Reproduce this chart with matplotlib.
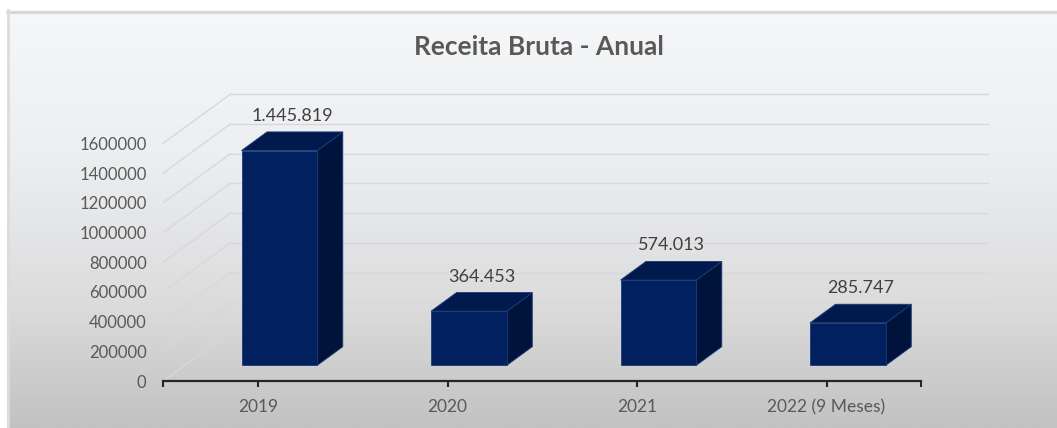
import numpy as np
import matplotlib
matplotlib.use("Agg")
import matplotlib.pyplot as plt
from matplotlib.colors import LinearSegmentedColormap

# ---- data ----
categories = ["2019", "2020", "2021", "2022 (9 Meses)"]
values = [1445819, 364453, 574013, 285747]
y_ticks = [0, 200000, 400000, 600000, 800000, 1000000, 1200000, 1400000, 1600000]
title = "Receita Bruta - Anual"

def fmt(v):
    return f"{v:,}".replace(",", ".")

W, H = 1057, 428
fig = plt.figure(figsize=(W / 100, H / 100), dpi=100)
fig.patch.set_facecolor("white")

# background gradient (chart area)
bx0, by_top = 7, 10
bg = fig.add_axes([bx0 / W, 0, 1 - bx0 / W, (H - by_top) / H])
cmap = LinearSegmentedColormap.from_list(
    "bg", [(0.0, "#f6f7f9"), (0.35, "#eceef0"), (0.7, "#dcdcdd"), (1.0, "#c2c2c2")])
grad = np.linspace(0, 1, 256).reshape(-1, 1)
bg.imshow(grad, aspect="auto", cmap=cmap, extent=[0, 1, 0, 1], origin="upper")
bg.set_xlim(0, 1)
bg.set_ylim(0, 1)
bg.axis("off")
bg.plot([0, 1], [0.996, 0.996], color="#d6d6da", lw=2, transform=bg.transAxes, clip_on=False)
bg.plot([0.001, 0.001], [0, 1], color="#dcdcdc", lw=2, transform=bg.transAxes, clip_on=False)

# ---- geometry (pixel based layout of the main axes) ----
px_per_cat = 189.5
y_per_px = 6731.0
DXF = 67 / px_per_cat          # floor depth in x units
DYF = 49 * y_per_px            # floor depth in y units
f0 = 0.32                      # front of bars at this depth fraction
fd = 0.38                      # bar depth fraction
bw = 0.40                      # bar width (category units)

x_left_px = 258 - 0.5 * px_per_cat
x_right_px = x_left_px + (4 + DXF) * px_per_cat
y_bot_px = 381
ytop_val = 1935000
y_top_px = y_bot_px - ytop_val / y_per_px

ax = fig.add_axes([x_left_px / W, (H - y_bot_px) / H,
                   (x_right_px - x_left_px) / W, (y_bot_px - y_top_px) / H])
ax.set_facecolor("none")
ax.set_xlim(-0.5, 3.5 + DXF)
ax.set_ylim(0, ytop_val)

# gridlines (floor diagonal + back wall)
grid_c = "#d8d8da"
for t in y_ticks:
    ax.plot([-0.5, -0.5 + DXF], [t, t + DYF], color=grid_c, lw=1, zorder=1, clip_on=False)
    ax.plot([-0.5 + DXF, 3.5 + DXF], [t + DYF, t + DYF], color=grid_c, lw=1, zorder=1, clip_on=False)

# bars
front_c = "#00205f"
top_c = "#001a4d"
side_c = "#00143b"
edge_c = "#1d3a78"
xs = np.arange(len(categories))
for i, v in zip(xs, values):
    x0 = i - bw / 2 + f0 * DXF
    x1 = i + bw / 2 + f0 * DXF
    yb = f0 * DYF
    yt = yb + v
    ddx, ddy = fd * DXF, fd * DYF
    ax.fill([x1, x1 + ddx, x1 + ddx, x1], [yb, yb + ddy, yt + ddy, yt],
            color=side_c, ec=edge_c, lw=0.6, zorder=3)
    ax.fill([x0, x1, x1 + ddx, x0 + ddx], [yt, yt, yt + ddy, yt + ddy],
            color=top_c, ec=edge_c, lw=0.6, zorder=3)
    ax.fill([x0, x1, x1, x0], [yb, yb, yt, yt],
            color=front_c, ec=edge_c, lw=0.6, zorder=4)
    ax.text((x0 + x1 + ddx) / 2, yt + ddy + 16 * y_per_px, fmt(v),
            ha="center", va="center", fontsize=13, color="#404040",
            family="Lato", zorder=5)

# axes styling
for s in ["top", "right", "left"]:
    ax.spines[s].set_visible(False)
ax.spines["bottom"].set_bounds(-0.5, 3.5)
ax.spines["bottom"].set_color("#262626")
ax.spines["bottom"].set_linewidth(1.6)

ax.set_xticks(xs)
ax.set_xticklabels(categories, fontsize=12.5, color="#595959", family="Lato")
ax.set_xticks([-0.5, 3.5], minor=True)
ax.tick_params(axis="x", which="both", length=4, width=1.5, color="#262626",
               direction="out", pad=9)

ax.set_yticks(y_ticks)
ax.set_yticklabels([str(t) for t in y_ticks], fontsize=12, color="#595959", family="Lato")
ax.tick_params(axis="y", length=0, pad=12)

fig.text(539 / W, 1 - 47 / H, title, ha="center", va="center",
         fontsize=19, fontweight="bold", color="#595959", family="Lato")

fig.savefig("out.png", dpi=100)
